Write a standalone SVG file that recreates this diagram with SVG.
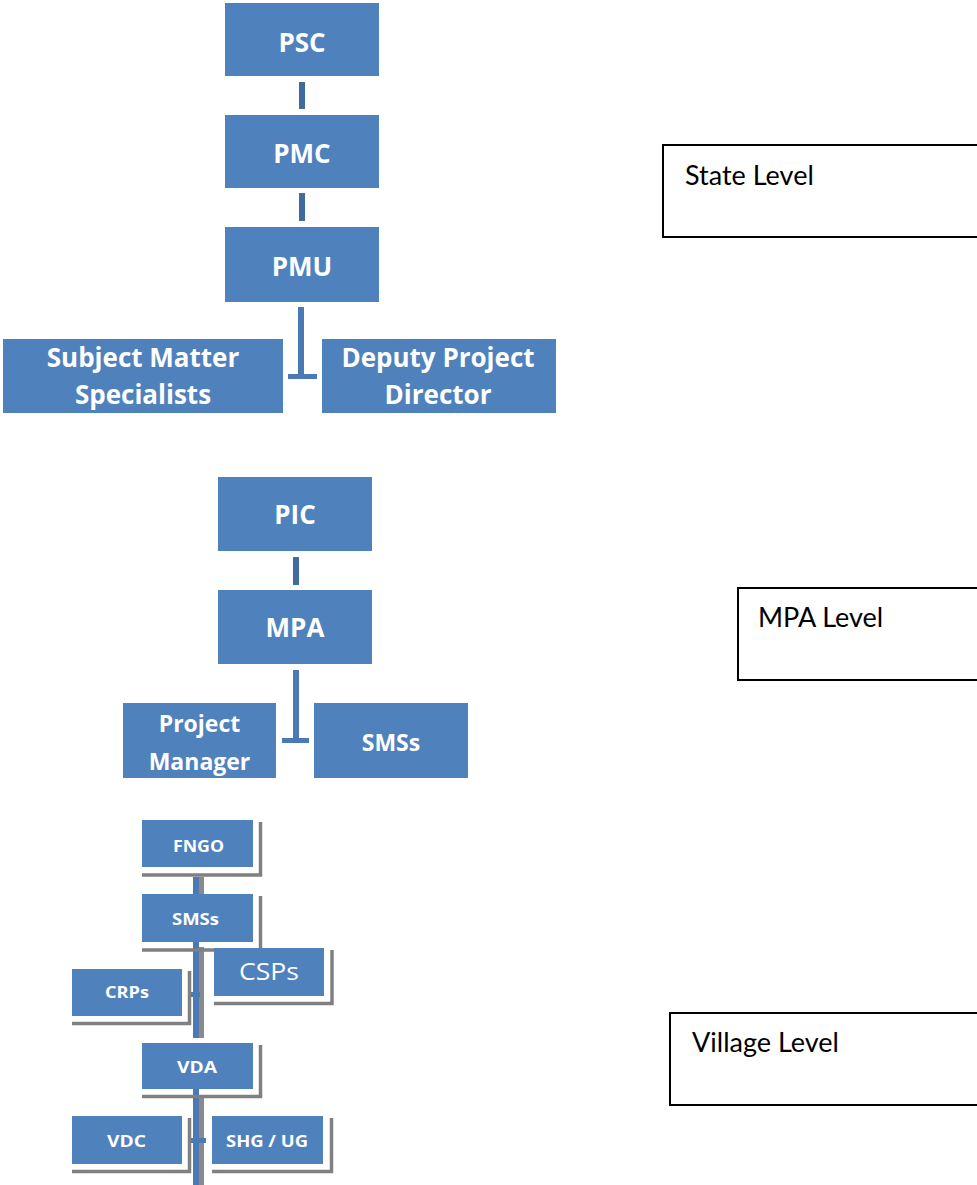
<svg xmlns="http://www.w3.org/2000/svg" width="977" height="1185" viewBox="0 0 977 1185">
<defs>
<style>
.box{fill:#4F81BD;}
.lbl{fill:#fff;font-family:"Open Sans",Lato,"Liberation Sans",sans-serif;font-weight:700;text-anchor:middle;}
.big{font-size:26px;}
.mid{font-size:23px;}
.sm{font-size:16px;}
.reg{font-weight:400;font-size:23px;}
.con{fill:#4A7AB5;}
.con2{fill:#3F6B9E;}
.vcon{fill:#4A7AB5;}
.sh{fill:none;stroke:#808080;stroke-width:3.5;}
.vsh{fill:#8A8A8A;}
.lvl{fill:#fff;stroke:#000;stroke-width:2;}
.lt{font-family:Lato,"Open Sans","Liberation Sans",sans-serif;font-size:27px;fill:#000;}
</style>
</defs>
<rect width="977" height="1185" fill="#fff"/>

<g id="connectors">
<rect class="con2" x="299" y="82" width="6" height="27"/>
<rect class="con2" x="299" y="193" width="6" height="28"/>
<rect class="con" x="298" y="307" width="6" height="71"/>
<rect class="con" x="288" y="374" width="29" height="5"/>
<rect class="con2" x="293" y="557" width="6" height="28"/>
<rect class="con" x="293" y="670" width="6" height="72"/>
<rect class="con" x="282" y="738" width="27" height="5"/>
<rect class="vsh" x="199" y="877" width="5" height="17"/>
<rect class="vcon" x="193" y="877" width="6" height="17"/>
<rect class="vsh" x="199" y="947" width="5" height="91"/>
<rect class="vcon" x="193" y="942" width="6" height="96"/>
<rect class="vcon" x="188" y="992" width="12" height="5"/>
<rect class="vsh" x="199" y="1095" width="5" height="90"/>
<rect class="vcon" x="193" y="1089" width="6" height="96"/>
<rect class="vcon" x="188" y="1138" width="18" height="5"/>
</g>

<g id="psc"><rect class="box" x="225" y="3" width="154" height="73"/><text class="lbl big" x="302" y="52">PSC</text></g>
<g id="pmc"><rect class="box" x="225" y="115" width="154" height="73"/><text class="lbl big" x="302" y="163">PMC</text></g>
<g id="pmu"><rect class="box" x="225" y="227" width="154" height="75"/><text class="lbl big" x="302" y="276">PMU</text></g>
<g id="sms-state"><rect class="box" x="3" y="339" width="280" height="74"/><text class="lbl big" x="143" y="367">Subject Matter</text><text class="lbl big" x="143" y="404">Specialists</text></g>
<g id="dpd"><rect class="box" x="322" y="339" width="234" height="74"/><text class="lbl big" x="438" y="367">Deputy Project</text><text class="lbl big" x="438" y="404">Director</text></g>

<g id="state-level"><rect class="lvl" x="663" y="145" width="330" height="92"/><text class="lt" x="685" y="185">State Level</text></g>

<g id="pic"><rect class="box" x="218" y="477" width="154" height="74"/><text class="lbl big" x="295" y="524">PIC</text></g>
<g id="mpa"><rect class="box" x="218" y="590" width="154" height="74"/><text class="lbl big" x="295" y="637">MPA</text></g>
<g id="pm"><rect class="box" x="123" y="703" width="153" height="75"/><text class="lbl mid" x="199.5" y="732">Project</text><text class="lbl mid" x="199.5" y="770">Manager</text></g>
<g id="sms-mpa"><rect class="box" x="314" y="703" width="154" height="75"/><text class="lbl mid" x="391" y="751">SMSs</text></g>

<g id="mpa-level"><rect class="lvl" x="738" y="588" width="260" height="92"/><text class="lt" x="758" y="627">MPA Level</text></g>

<g id="fngo"><path class="sh" d="M260.5,822 V875 H142"/><rect class="box" x="142" y="820" width="111" height="47"/><text class="lbl sm" x="198.5" y="852" textLength="51" lengthAdjust="spacingAndGlyphs">FNGO</text></g>
<g id="sms-village"><path class="sh" d="M260.5,896 V950 H142"/><rect class="box" x="142" y="894" width="111" height="48"/><text class="lbl sm" x="195.5" y="925" textLength="47" lengthAdjust="spacingAndGlyphs">SMSs</text></g>
<g id="csps"><path class="sh" d="M332,950 V1003.5 H214"/><rect class="box" x="214" y="948" width="110" height="48"/><text class="lbl reg" x="269" y="980" textLength="60" lengthAdjust="spacingAndGlyphs">CSPs</text></g>
<g id="crps"><path class="sh" d="M189.5,971 V1023.5 H72"/><rect class="box" x="72" y="969" width="110" height="47"/><text class="lbl sm" x="127" y="998" textLength="44" lengthAdjust="spacingAndGlyphs">CRPs</text></g>
<g id="vda"><path class="sh" d="M260.5,1045 V1096.5 H142"/><rect class="box" x="142" y="1043" width="111" height="46"/><text class="lbl sm" x="197" y="1073" textLength="40" lengthAdjust="spacingAndGlyphs">VDA</text></g>
<g id="vdc"><path class="sh" d="M189.5,1118 V1171.5 H72"/><rect class="box" x="72" y="1116" width="110" height="48"/><text class="lbl sm" x="126.5" y="1147" textLength="39" lengthAdjust="spacingAndGlyphs">VDC</text></g>
<g id="shg-ug"><path class="sh" d="M331.5,1118 V1171.5 H212"/><rect class="box" x="212" y="1116" width="111" height="48"/><text class="lbl sm" x="267" y="1147" textLength="82" lengthAdjust="spacingAndGlyphs">SHG / UG</text></g>

<g id="village-level"><rect class="lvl" x="670" y="1013" width="330" height="92"/><text class="lt" x="692" y="1052">Village Level</text></g>
</svg>
